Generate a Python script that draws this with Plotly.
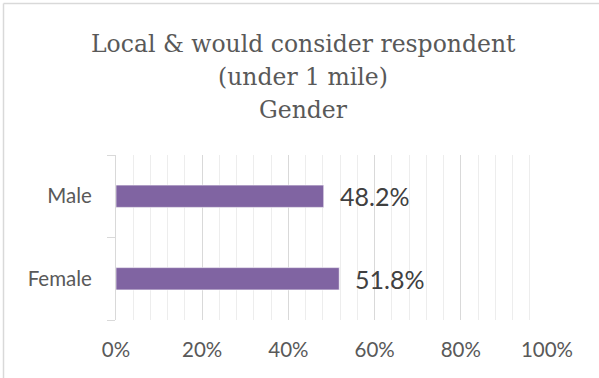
import plotly.graph_objects as go

# Survey breakdown by gender (share of respondents, %)
categories = ["Female", "Male"]
shares = [51.8, 48.2]
x_ticks = [0, 20, 40, 60, 80, 100]
x_tick_labels = ["0%", "20%", "40%", "60%", "80%", "100%"]
title_lines = ["Local & would consider respondent", "(under 1 mile)", "Gender"]

BAR_COLOR = "#8064A2"
TEXT_GREY = "#595959"
LABEL_GREY = "#404040"
BORDER_GREY = "#D9D9D9"

W, H = 599, 378
M_L, M_R, M_T, M_B = 116, 52, 155, 58
PLOT_W = W - M_L - M_R
PLOT_H = H - M_T - M_B


def px_to_paper_x(px):
    return (px - M_L) / PLOT_W


def px_to_paper_y(py):
    return (H - M_B - py) / PLOT_H


fig = go.Figure(
    go.Bar(
        x=shares,
        y=categories,
        orientation="h",
        width=0.27,
        marker=dict(color=BAR_COLOR, line=dict(color="white", width=0.6)),
        hoverinfo="skip",
    )
)

# Value labels sitting just past the end of each bar
for cat, val in zip(categories, shares):
    fig.add_annotation(
        x=val, y=cat, xref="x", yref="y",
        text=f"{val:.1f}%", showarrow=False,
        xanchor="left", yanchor="middle", xshift=14,
        font=dict(family="Lato", size=25, color=LABEL_GREY),
    )

# Three-line chart title, one annotation per line
for line, cy in zip(title_lines, [44, 77, 110]):
    fig.add_annotation(
        x=px_to_paper_x(303), y=px_to_paper_y(cy), xref="paper", yref="paper",
        text=line, showarrow=False, xanchor="center", yanchor="middle",
        font=dict(family="DejaVu Serif", size=23.5, color=TEXT_GREY),
    )

# Chart-area frame (top and left edges)
frame = dict(type="line", xref="paper", yref="paper",
             line=dict(color=BORDER_GREY, width=1.5))
fig.update_layout(
    width=W, height=H,
    margin=dict(l=M_L, r=M_R, t=M_T, b=M_B),
    paper_bgcolor="white", plot_bgcolor="white",
    showlegend=False,
    shapes=[
        {**frame, "x0": px_to_paper_x(3.5), "x1": px_to_paper_x(W),
         "y0": px_to_paper_y(3.5), "y1": px_to_paper_y(3.5)},
        {**frame, "x0": px_to_paper_x(3.5), "x1": px_to_paper_x(3.5),
         "y0": px_to_paper_y(3.5), "y1": px_to_paper_y(H)},
    ],
)

fig.update_xaxes(
    range=[0, 100],
    tickvals=x_ticks, ticktext=x_tick_labels,
    showgrid=True, gridcolor="#D9D9D9", gridwidth=1,
    minor=dict(dtick=4, tick0=0, showgrid=True, gridcolor="#EDEDED", gridwidth=1),
    zeroline=False, showline=False, ticks="",
    ticklabelstandoff=15,
    tickfont=dict(family="Lato", size=20.5, color=TEXT_GREY),
)
fig.update_yaxes(
    showgrid=False, zeroline=False,
    showline=True, linecolor="#D9D9D9", linewidth=1,
    ticks="outside", tickson="boundaries", ticklen=8, tickcolor="#D9D9D9",
    ticklabelstandoff=19,
    tickfont=dict(family="Lato", size=20.5, color=TEXT_GREY),
)

fig.write_html("out.html")
